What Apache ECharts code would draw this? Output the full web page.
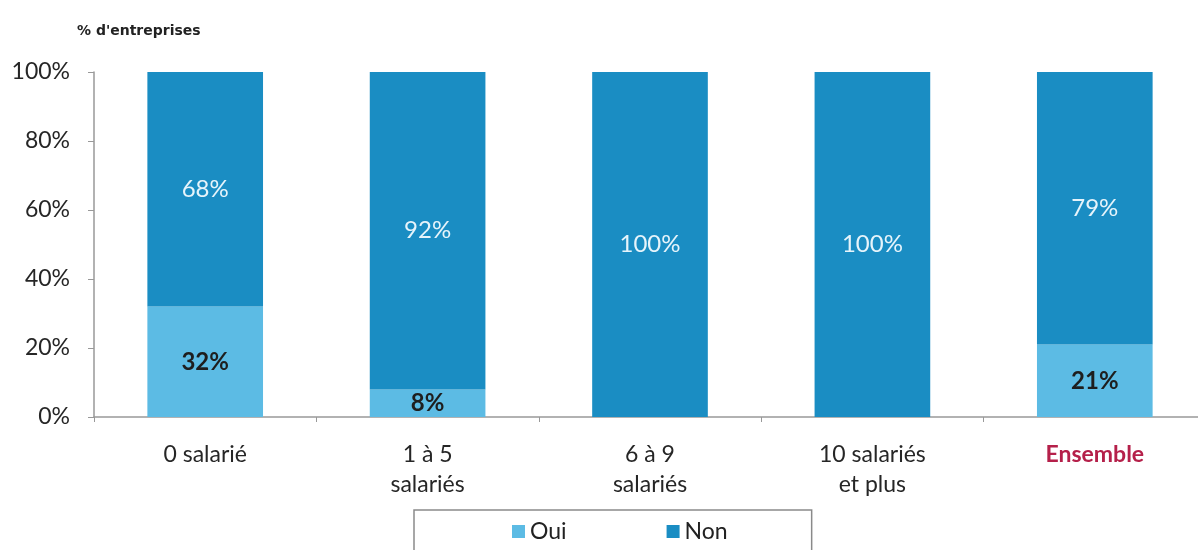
<!DOCTYPE html>
<html>
<head>
<meta charset="utf-8">
<script src="https://cdn.jsdelivr.net/npm/echarts@6/dist/echarts.min.js"></script>
<style>
  html, body { margin: 0; padding: 0; background: #fff; }
  #chart { width: 1198px; height: 550px; }
</style>
</head>
<body>
<div id="chart"></div>
<script>
(function(){
  'use strict';

  // categories and values (% of companies)
  var categories = ['0 salarié', '1 à 5\nsalariés', '6 à 9\nsalariés', '10 salariés\net plus', 'Ensemble'];
  var ouiValues  = [32, 8, 0, 0, 21];
  var nonValues  = [68, 92, 100, 100, 79];

  var font = 'Lato';
  var colOui = '#5cbbe4',
      colNon = '#1a8dc3';

  var chart = echarts.init(document.getElementById('chart'));

  chart.setOption({
    animation: false,
    textStyle: {fontFamily: font},
    title: {
      text: "% d'entreprises",
      left: 72, top: 19,
      textStyle: {fontFamily: 'DejaVu Sans', fontSize: 14, fontWeight: 'bold', color: '#222'}
    },
    grid: {left: 94, top: 72, width: 1112, height: 345, outerBoundsMode: 'none'},
    legend: {
      data: ['Oui', 'Non'],
      left: 414, top: 510,
      padding: [10, 84, 30, 98],
      itemGap: 100,
      itemWidth: 13, itemHeight: 13,
      borderColor: '#8a8a8a', borderWidth: 1.5,
      icon: 'rect',
      textStyle: {fontFamily: font, fontSize: 23, color: '#222'}
    },
    xAxis: {
      type: 'category',
      data: categories,
      axisLine: {lineStyle: {color: '#999', width: 1.5}},
      axisTick: {show: true, alignWithLabel: false, length: 5, lineStyle: {color: '#999'}},
      axisLabel: {
        margin: 23,
        lineHeight: 30,
        fontSize: 23,
        color: '#262626',
        formatter: function(v){
          return v === 'Ensemble' ? '{ens|' + v + '}' : v;
        },
        rich: {ens: {color: '#b5204a', fontSize: 23, fontWeight: 'bold', fontFamily: font}}
      }
    },
    yAxis: {
      type: 'value',
      min: 0, max: 100, interval: 20,
      splitLine: {show: false},
      axisLine: {show: true, lineStyle: {color: '#999', width: 1.5}},
      axisTick: {show: true, length: 6, lineStyle: {color: '#999'}},
      axisLabel: {fontSize: 23, color: '#262626', margin: 24, formatter: '{value}%'}
    },
    series: [{
      name: 'Oui',
      type: 'bar',
      stack: 'total',
      barWidth: '52%',
      data: ouiValues,
      itemStyle: {color: colOui},
      label: {
        show: true, position: 'inside',
        fontSize: 24, fontWeight: 'bold', color: '#1e1e1e', fontFamily: font,
        formatter: function(p){ return p.value > 0 ? p.value + '%' : ''; }
      }
    }, {
      name: 'Non',
      type: 'bar',
      stack: 'total',
      data: nonValues,
      itemStyle: {color: colNon},
      label: {
        show: true, position: 'inside',
        fontSize: 24, color: '#e6f4fb', fontFamily: font,
        formatter: '{c}%'
      }
    }]
  });
})();
</script>
</body>
</html>
